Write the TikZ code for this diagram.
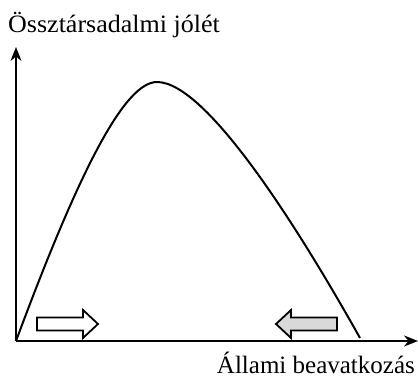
\documentclass[tikz,border=0pt]{standalone}
\usepackage{fontspec}
\setmainfont{Liberation Serif}
\usetikzlibrary{arrows.meta}
\begin{document}
\begin{tikzpicture}[x=1pt,y=1pt,
  axis/.style={line width=1.8pt,-{Stealth[length=14pt,width=11pt]}},
  curve/.style={line width=2pt},
  bigarrow/.style={draw=black,line width=1.8pt,line join=miter},
  lbl/.style={font=\fontsize{25}{30}\selectfont,inner sep=0pt}]
\useasboundingbox (0,0) rectangle (418,380);
\coordinate (O) at (16,39);
\coordinate (Ytip) at (16,333);
\coordinate (Xtip) at (418,39);
\draw[axis] (O) -- (Ytip);
\draw[axis] (O) -- (Xtip);
\draw[curve] (O) .. controls (78,206) and (124,298) .. (157,298)
  .. controls (207,298) and (300,149) .. (360,42);
\draw[bigarrow,fill=white] (37,49.5) -- (83,49.5) -- (83,42) -- (98,56) -- (83,70) -- (83,62.5) -- (37,62.5) -- cycle;
\draw[bigarrow,fill=gray!30] (337,49.5) -- (291,49.5) -- (291,42) -- (276,56) -- (291,70) -- (291,62.5) -- (337,62.5) -- cycle;
\node[lbl,anchor=base west,xscale=1.04] (ylab) at (8,347) {Össztársadalmi jólét};
\node[lbl,anchor=base east] (xlab) at (415,6) {Állami beavatkozás};
\end{tikzpicture}
\end{document}
